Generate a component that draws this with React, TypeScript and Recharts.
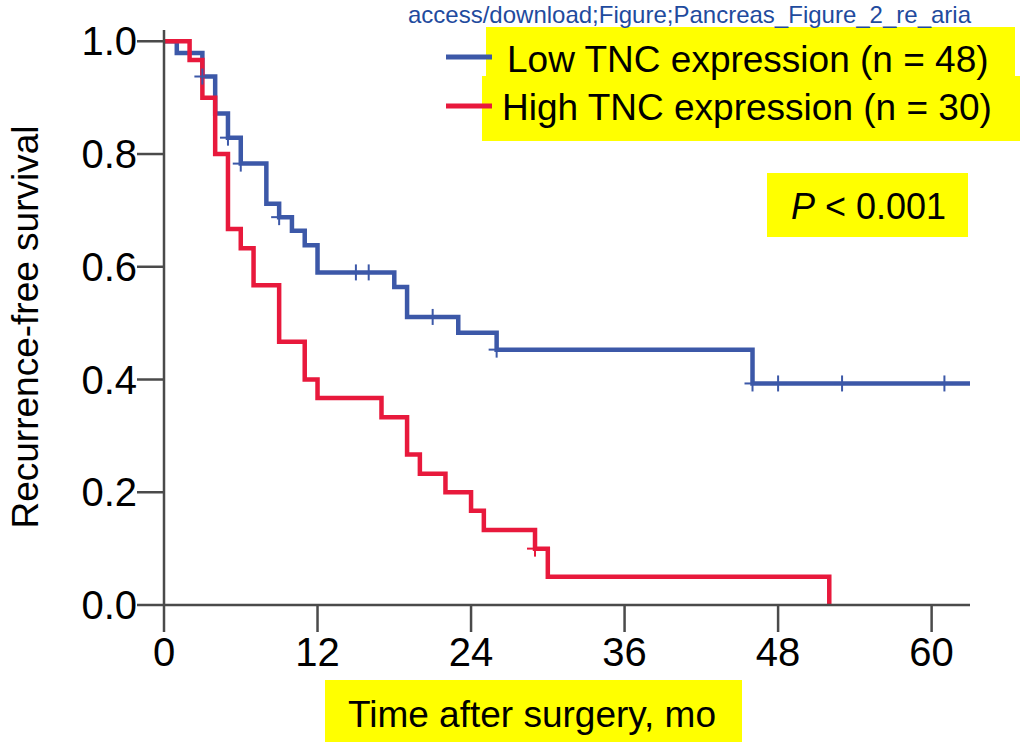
import { ComposedChart, Line, Scatter, XAxis, YAxis, Legend } from 'recharts'

// Kaplan-Meier steps (months, survival)
const lowTime = [0, 1, 3, 4, 5, 6, 8, 9, 10, 11, 12, 18, 19, 23, 26, 46, 63]
const lowSurv = [1.0, 0.979, 0.9375, 0.872, 0.829, 0.783, 0.712, 0.688, 0.664, 0.638, 0.59, 0.564, 0.511, 0.483, 0.453, 0.393, 0.393]
const lowCensorTime = [3, 5, 6, 9, 15, 16, 21, 26, 46, 48, 53, 61]
const lowCensorSurv = [0.9375, 0.829, 0.783, 0.688, 0.59, 0.59, 0.511, 0.453, 0.393, 0.393, 0.393, 0.393]

const highTime = [0, 2, 3, 4, 5, 6, 7, 9, 11, 12, 17, 19, 20, 22, 24, 25, 29, 30, 52]
const highSurv = [1.0, 0.967, 0.9, 0.8, 0.667, 0.633, 0.567, 0.467, 0.4, 0.367, 0.333, 0.267, 0.233, 0.2, 0.167, 0.133, 0.1, 0.05, 0]
const highCensorTime = [29]
const highCensorSurv = [0.1]

const xTicks = [0, 12, 24, 36, 48, 60]
const yTicks = [0, 0.2, 0.4, 0.6, 0.8, 1.0]

const lowName = 'Low TNC expression (n = 48)'
const highName = 'High TNC expression (n = 30)'

const BLUE = '#3c58a8'
const RED = '#e8193c'
const AXIS = '#4a4a4a'
const FONT = '"Liberation Sans", Arial, sans-serif'

const zip = (t: number[], s: number[]) => t.map((v, i) => ({ t: v, s: s[i] }))

const lowData = zip(lowTime, lowSurv)
const highData = zip(highTime, highSurv)
const lowCensor = zip(lowCensorTime, lowCensorSurv)
const highCensor = zip(highCensorTime, highCensorSurv)

function Cross(props: any) {
  const { cx, cy, fill } = props
  if (cx == null || cy == null) return null
  return (
    <g stroke={fill} strokeWidth={2}>
      <line x1={cx} x2={cx} y1={cy - 8} y2={cy + 8} />
      <line x1={cx - 8} x2={cx + 8} y1={cy} y2={cy} />
    </g>
  )
}

function LegendBoxes() {
  // drawn in an svg whose origin sits at (440, 20) of the chart
  const ox = 440
  const oy = 20
  return (
    <svg width={585} height={125} style={{ display: 'block' }}>
      <rect x={486 - ox} y={27 - oy} width={529} height={50} fill="#ffff00" />
      <rect x={482 - ox} y={76 - oy} width={538} height={65} fill="#ffff00" />
      <line x1={446 - ox} x2={492 - ox} y1={57 - oy} y2={57 - oy} stroke={BLUE} strokeWidth={5} />
      <line x1={446 - ox} x2={492 - ox} y1={106 - oy} y2={106 - oy} stroke={RED} strokeWidth={5} />
      <text x={507 - ox} y={72 - oy} fontSize={37} fontFamily={FONT} fill="#000">{lowName}</text>
      <text x={502 - ox} y={120 - oy} fontSize={37} fontFamily={FONT} fill="#000">{highName}</text>
    </svg>
  )
}

export default function App() {
  return (
    <div style={{ position: 'relative', width: 1025, height: 742, overflow: 'hidden', background: '#fff' }}>
      <style>{`body{margin:0}`}</style>
      <ComposedChart width={1025} height={742} margin={{ top: 30, right: 55, bottom: 0, left: 0 }}>
        <XAxis
          type="number"
          dataKey="t"
          domain={[0, 63]}
          ticks={xTicks}
          allowDataOverflow
          height={137}
          tickSize={27}
          tickMargin={6}
          stroke={AXIS}
          strokeWidth={2.5}
          tick={{ fill: '#000', fontSize: 40, fontFamily: FONT }}
          label={{
            content: () => (
              <g>
                <rect x={325} y={680} width={417} height={62} fill="#ffff00" />
                <text x={532} y={727} textAnchor="middle" fontSize={37} fontFamily={FONT} fill="#000">
                  Time after surgery, mo
                </text>
              </g>
            ),
          }}
        />
        <YAxis
          type="number"
          domain={[0, 1.02]}
          ticks={yTicks}
          allowDataOverflow
          width={164}
          tickSize={27}
          tickMargin={0}
          stroke={AXIS}
          strokeWidth={2.5}
          tickFormatter={(v: number) => v.toFixed(1)}
          tick={{ fill: '#000', fontSize: 40, fontFamily: FONT }}
          label={{
            content: () => (
              <text x={38} y={327} transform="rotate(-90 38 327)" textAnchor="middle" fontSize={37} fontFamily={FONT} fill="#000">
                Recurrence-free survival
              </text>
            ),
          }}
        />
        <Line data={lowData} dataKey="s" name={lowName} type="stepAfter" stroke={BLUE} strokeWidth={4.5} dot={false} activeDot={false} isAnimationActive={false} />
        <Line data={highData} dataKey="s" name={highName} type="stepAfter" stroke={RED} strokeWidth={4.5} dot={false} activeDot={false} isAnimationActive={false} />
        <Scatter data={lowCensor} dataKey="s" fill={BLUE} shape={<Cross />} isAnimationActive={false} legendType="none" />
        <Scatter data={highCensor} dataKey="s" fill={RED} shape={<Cross />} isAnimationActive={false} legendType="none" />
        <Legend
          layout="horizontal"
          verticalAlign="middle"
          align="center"
          content={() => <LegendBoxes />}
          wrapperStyle={{ position: 'absolute', left: 440, top: 20, width: 585, height: 125 }}
        />
      </ComposedChart>

      {/* header text at the top of the figure */}
      <svg width={1025} height={742} style={{ position: 'absolute', left: 0, top: 0, pointerEvents: 'none' }}>
        <text x={408} y={23} fontSize={24} fontFamily={FONT} fill="#1f4b9e">
          access/download;Figure;Pancreas_Figure_2_re_aria
        </text>
        <rect x={767} y={173} width={201} height={64} fill="#ffff00" />
        <text x={791} y={219} fontSize={36} fontFamily={FONT} fill="#000">
          <tspan fontStyle="italic">P</tspan>
          <tspan> &lt; 0.001</tspan>
        </text>
      </svg>
    </div>
  )
}
